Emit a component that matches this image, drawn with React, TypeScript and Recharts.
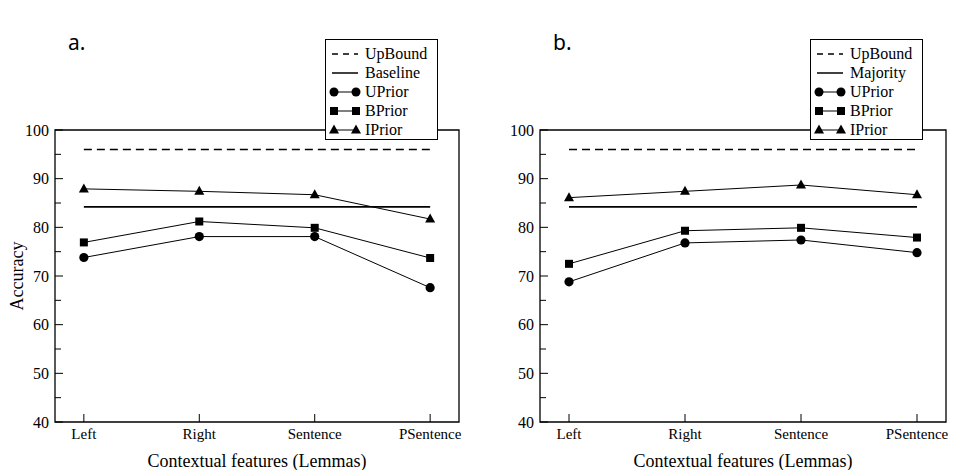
import React from 'react';
import {
  LineChart,
  Line,
  XAxis,
  YAxis,
  ReferenceArea,
} from 'recharts';

const features = ['Left', 'Right', 'Sentence', 'PSentence'];
const featurePos = [1, 2, 3, 4];
const yTicks = [40, 45, 50, 55, 60, 65, 70, 75, 80, 85, 90, 95, 100];

// panel a.
const upBoundA = [96, 96, 96, 96];
const baselineA = [84.2, 84.2, 84.2, 84.2];
const uPriorA = [73.8, 78.1, 78.1, 67.6];
const bPriorA = [76.9, 81.2, 79.9, 73.7];
const iPriorA = [87.9, 87.4, 86.7, 81.7];

// panel b.
const upBoundB = [96, 96, 96, 96];
const majorityB = [84.2, 84.2, 84.2, 84.2];
const uPriorB = [68.8, 76.8, 77.4, 74.8];
const bPriorB = [72.5, 79.3, 79.9, 77.9];
const iPriorB = [86.1, 87.4, 88.7, 86.7];

const serif = '"Liberation Serif", "Times New Roman", serif';

const makeRows = (up: number[], base: number[], u: number[], b: number[], ip: number[]) =>
  features.map((f, i) => ({
    x: featurePos[i],
    name: f,
    up: up[i],
    base: base[i],
    u: u[i],
    b: b[i],
    ip: ip[i],
  }));

const CircleDot = (p: any) =>
  p.cx == null ? <g key={`c-${p.index}`} /> : (
    <circle key={`c-${p.index}`} cx={p.cx} cy={p.cy} r={4.6} fill="#000" />
  );
const SquareDot = (p: any) =>
  p.cx == null ? <g key={`s-${p.index}`} /> : (
    <rect key={`s-${p.index}`} x={p.cx - 4} y={p.cy - 4} width={8} height={8} fill="#000" />
  );
const TriDot = (p: any) =>
  p.cx == null ? <g key={`t-${p.index}`} /> : (
    <polygon
      key={`t-${p.index}`}
      points={`${p.cx},${p.cy - 5.5} ${p.cx - 5},${p.cy + 3.5} ${p.cx + 5},${p.cy + 3.5}`}
      fill="#000"
    />
  );

const YTick = (p: any) => {
  const v = p.payload.value;
  const axisX = p.x + 6;
  const major = v % 10 === 0;
  return (
    <g>
      <line x1={axisX} x2={axisX + (major ? 8 : 6)} y1={p.y} y2={p.y} stroke="#000" />
      {major && (
        <text x={p.x} y={p.y} dy="0.35em" textAnchor="end" fontSize={16} fontFamily={serif} fill="#000">
          {v}
        </text>
      )}
    </g>
  );
};

const XTick = (p: any) => {
  const idx = featurePos.indexOf(p.payload.value);
  return (
    <text x={p.x} y={p.y} dy="0.75em" textAnchor="middle" fontSize={15} fontFamily={serif} fill="#000">
      {features[idx]}
    </text>
  );
};

const LegendIcon = ({ kind }: { kind: string }) => (
  <svg width={36} height={14} style={{ display: 'block' }}>
    {kind === 'dash' && <line x1={4} x2={30} y1={7} y2={7} stroke="#000" strokeWidth={1.5} strokeDasharray="6 5" />}
    {kind === 'solid' && <line x1={4} x2={30} y1={7} y2={7} stroke="#000" strokeWidth={1.5} />}
    {kind !== 'dash' && kind !== 'solid' && <line x1={6} x2={28} y1={7} y2={7} stroke="#000" />}
    {kind === 'circle' && (
      <>
        <circle cx={6} cy={7} r={4.5} />
        <circle cx={28} cy={7} r={4.5} />
      </>
    )}
    {kind === 'square' && (
      <>
        <rect x={2} y={3} width={8} height={8} />
        <rect x={24} y={3} width={8} height={8} />
      </>
    )}
    {kind === 'tri' && (
      <>
        <polygon points="6,1.5 1,10.5 11,10.5" />
        <polygon points="28,1.5 23,10.5 33,10.5" />
      </>
    )}
  </svg>
);

type PanelProps = {
  title: string;
  rows: any[];
  baseName: string;
  width: number;
  yAxisWidth: number;
  marginRight: number;
  showYLabel: boolean;
  legendLeft: number;
};

function Panel({ title, rows, baseName, width, yAxisWidth, marginRight, showYLabel, legendLeft }: PanelProps) {
  const legend = [
    { kind: 'dash', label: 'UpBound' },
    { kind: 'solid', label: baseName },
    { kind: 'circle', label: 'UPrior' },
    { kind: 'square', label: 'BPrior' },
    { kind: 'tri', label: 'IPrior' },
  ];
  return (
    <div style={{ position: 'relative', width, height: 470, flex: 'none' }}>
      <LineChart width={width} height={470} data={rows} margin={{ top: 130, right: marginRight, bottom: 0, left: 0 }}>
        <XAxis
          dataKey="x"
          type="number"
          domain={[0.75, 4.25]}
          ticks={featurePos}
          axisLine={false}
          tickSize={-8}
          tickMargin={14}
          tickLine={{ stroke: '#000' }}
          tick={<XTick />}
          height={48}
          label={{
            value: 'Contextual features (Lemmas)',
            position: 'insideBottom',
            offset: 3,
            style: { fontSize: 18, fontFamily: serif, fill: '#000' },
          }}
        />
        <YAxis
          type="number"
          domain={[40, 100]}
          ticks={yTicks}
          interval={0}
          axisLine={false}
          tickLine={false}
          tickSize={0}
          tickMargin={6}
          tick={<YTick />}
          width={yAxisWidth}
          label={
            showYLabel
              ? {
                  value: 'Accuracy',
                  angle: -90,
                  position: 'insideLeft',
                  offset: 17,
                  style: { fontSize: 18, fontFamily: serif, fill: '#000', textAnchor: 'middle' },
                }
              : undefined
          }
        />
        <ReferenceArea x1={0.75} x2={4.25} y1={40} y2={100} fill="none" stroke="#000" strokeWidth={1.3} />
        <Line dataKey="up" stroke="#000" strokeWidth={1.5} strokeDasharray="8 5" dot={false} isAnimationActive={false} />
        <Line dataKey="base" stroke="#000" strokeWidth={1.8} dot={false} isAnimationActive={false} />
        <Line dataKey="u" stroke="#000" strokeWidth={1} dot={CircleDot} isAnimationActive={false} />
        <Line dataKey="b" stroke="#000" strokeWidth={1} dot={SquareDot} isAnimationActive={false} />
        <Line dataKey="ip" stroke="#000" strokeWidth={1} dot={TriDot} isAnimationActive={false} />
      </LineChart>
      <div
        style={{
          position: 'absolute',
          left: yAxisWidth + 13,
          top: 28,
          fontFamily: '"Noto Sans", "DejaVu Sans", sans-serif',
          fontSize: 21,
          color: '#000',
        }}
      >
        {title}
      </div>
      <div
        style={{
          position: 'absolute',
          left: legendLeft,
          top: 39,
          width: 113,
          height: 101,
          boxSizing: 'border-box',
          border: '1px solid #000',
          background: '#fff',
          padding: '4px 0 0 2px',
        }}
      >
        {legend.map((l) => (
          <div key={l.label} style={{ display: 'flex', alignItems: 'center', height: 19 }}>
            <LegendIcon kind={l.kind} />
            <span style={{ fontFamily: serif, fontSize: 16, lineHeight: '19px', marginLeft: 1 }}>{l.label}</span>
          </div>
        ))}
      </div>
    </div>
  );
}

export default function App() {
  const rowsA = makeRows(upBoundA, baselineA, uPriorA, bPriorA, iPriorA);
  const rowsB = makeRows(upBoundB, majorityB, uPriorB, bPriorB, iPriorB);
  return (
    <div style={{ position: 'absolute', left: 0, top: 0, width: 956, height: 470, background: '#fff', display: 'flex' }}>
      <Panel
        title="a."
        rows={rowsA}
        baseName="Baseline"
        width={480}
        yAxisWidth={55}
        marginRight={21}
        showYLabel
        legendLeft={325}
      />
      <Panel
        title="b."
        rows={rowsB}
        baseName="Majority"
        width={476}
        yAxisWidth={60}
        marginRight={10}
        showYLabel={false}
        legendLeft={330}
      />
    </div>
  );
}
